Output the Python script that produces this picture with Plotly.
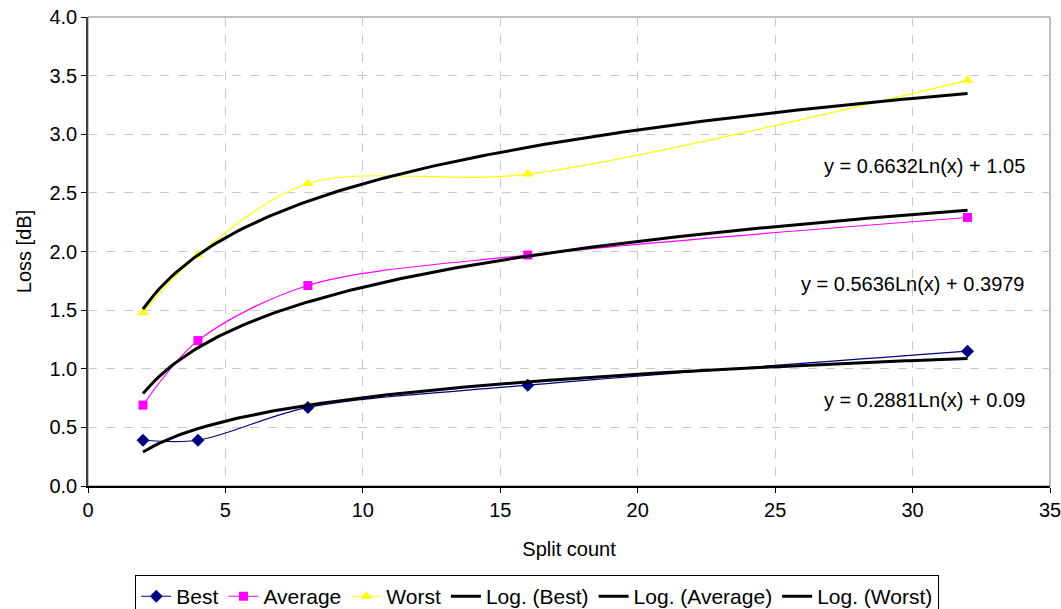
import numpy as np
import plotly.graph_objects as go

split_count = [2, 4, 8, 16, 32]
best = [0.39, 0.39, 0.67, 0.86, 1.15]
average = [0.69, 1.24, 1.71, 1.97, 2.29]
worst = [1.48, 1.97, 2.58, 2.66, 3.46]

# Logarithmic trendline coefficients (slope, intercept) as shown on the chart
trend_best = [0.2881, 0.09]
trend_average = [0.5636, 0.3979]
trend_worst = [0.6632, 1.05]
trend_labels = ["y = 0.2881Ln(x) + 0.09", "y = 0.5636Ln(x) + 0.3979", "y = 0.6632Ln(x) + 1.05"]

FONT = "Liberation Sans, Arial, sans-serif"
FS = 20

fig = go.Figure()

series = [
    ("Best", best, "#000080", "diamond", 10),
    ("Average", average, "#FF00FF", "square", 9),
    ("Worst", worst, "#FFFF00", "triangle-up", 10),
]
for name, vals, col, sym, sz in series:
    fig.add_trace(go.Scatter(
        x=split_count, y=vals, name=name, mode="lines+markers",
        line=dict(color=col, width=1.2, shape="spline", smoothing=0.9),
        marker=dict(symbol=sym, size=sz, color=col),
    ))

xs = np.linspace(split_count[0], split_count[-1], 200)
for name, coef in [("Log. (Best)", trend_best), ("Log. (Average)", trend_average), ("Log. (Worst)", trend_worst)]:
    fig.add_trace(go.Scatter(
        x=xs, y=coef[0] * np.log(xs) + coef[1], name=name, mode="lines",
        line=dict(color="black", width=3),
    ))

ann_pos = [(34.16, 0.73), (34.16, 1.72), (34.16, 2.73)]
for (ax, ay), txt in zip(ann_pos, trend_labels):
    fig.add_annotation(x=ax, y=ay, text=txt, showarrow=False, xanchor="right",
                       yanchor="middle", font=dict(size=FS, color="black", family=FONT))

fig.add_shape(type="rect", xref="paper", yref="paper", x0=0, y0=0, x1=1, y1=1,
              line=dict(color="#808080", width=1), layer="below")

fig.update_layout(
    width=1061, height=609,
    margin=dict(l=88, r=11, t=17, b=123, autoexpand=False),
    paper_bgcolor="white", plot_bgcolor="white",
    font=dict(family=FONT, size=FS, color="black"),
    showlegend=True,
    legend=dict(orientation="h", x=0.467, xanchor="center", y=-0.19, yanchor="top",
                bordercolor="black", borderwidth=1, font=dict(size=21),
                itemwidth=30, tracegroupgap=0),
    xaxis=dict(range=[0, 35], dtick=5, showgrid=True, gridcolor="#C8C8C8", griddash="dash",
               gridwidth=1, showline=True, linecolor="black", linewidth=1.5,
               ticks="outside", ticklen=5, tickcolor="black", zeroline=False, automargin=False,
               ticklabeloverflow="allow",
               title=dict(text="Split count", font=dict(size=FS), standoff=22)),
    yaxis=dict(range=[0, 4.0], dtick=0.5, tickformat=".1f", showgrid=True, gridcolor="#C8C8C8",
               griddash="dash", gridwidth=1, showline=True, linecolor="#404040", linewidth=1.5,
               ticks="outside", ticklen=5, tickcolor="black", zeroline=False, automargin=False,
               ticklabeloverflow="allow",
               title=dict(text="Loss [dB]", font=dict(size=FS), standoff=12)),
)

fig.write_html("out.html")
